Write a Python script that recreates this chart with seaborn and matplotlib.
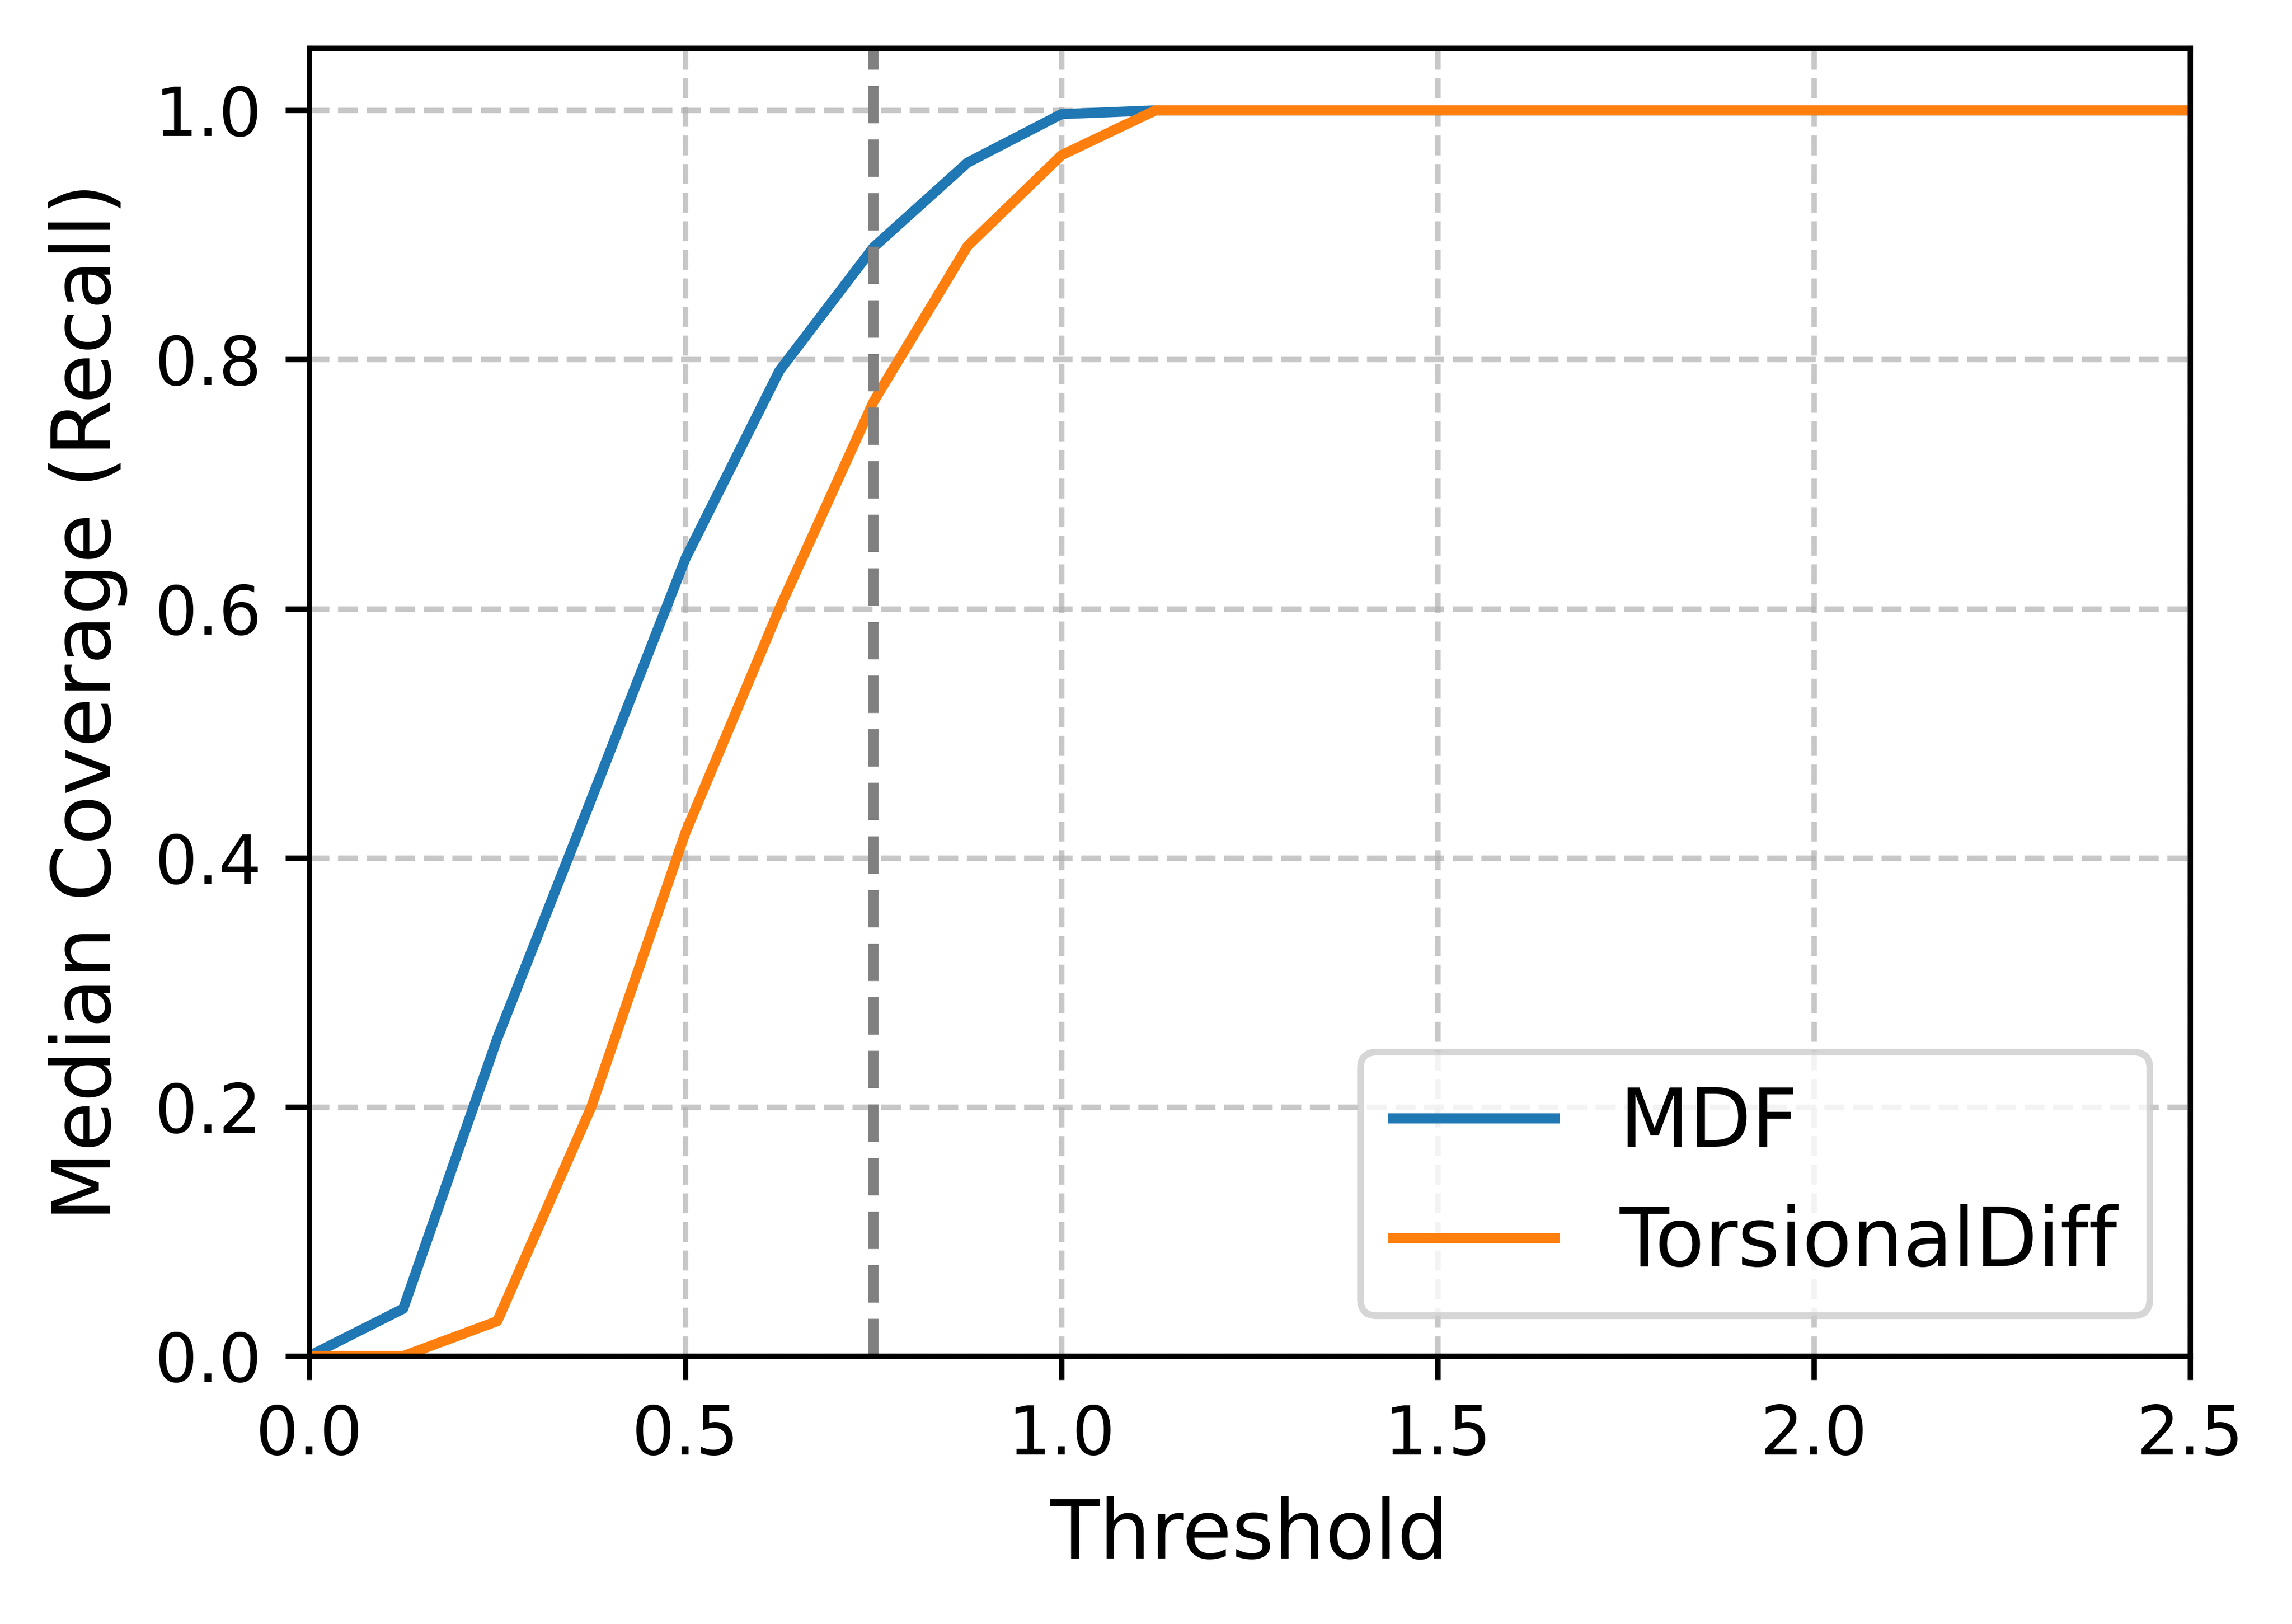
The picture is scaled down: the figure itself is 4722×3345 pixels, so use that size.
import matplotlib
matplotlib.use("Agg")
import matplotlib.pyplot as plt
import seaborn as sns
import numpy as np
import pandas as pd

thresholds = [0.0, 0.125, 0.25, 0.375, 0.5, 0.625, 0.75, 0.875, 1.0, 1.125,
              1.25, 1.375, 1.5, 1.625, 1.75, 1.875, 2.0, 2.125, 2.25, 2.375, 2.5]
mdf = [0.0, 0.038, 0.255, 0.447, 0.640, 0.791, 0.890, 0.958, 0.997, 1.0,
       1.0, 1.0, 1.0, 1.0, 1.0, 1.0, 1.0, 1.0, 1.0, 1.0, 1.0]
torsional = [0.0, 0.0, 0.028, 0.200, 0.420, 0.600, 0.766, 0.891, 0.964, 1.0,
             1.0, 1.0, 1.0, 1.0, 1.0, 1.0, 1.0, 1.0, 1.0, 1.0, 1.0]
series_names = ["MDF", "TorsionalDiff"]
series_colors = ["#1f77b4", "#ff7f0e"]
marker_threshold = 0.75

df = pd.DataFrame({"Threshold": thresholds, "MDF": mdf, "TorsionalDiff": torsional})

fig = plt.figure(figsize=(4.722, 3.345), dpi=1000)
ax = fig.add_axes([0.1349, 0.1650, 0.9555 - 0.1349, 0.9704 - 0.1650])

for name, color in zip(series_names, series_colors):
    sns.lineplot(data=df, x="Threshold", y=name, ax=ax, color=color,
                 linewidth=1.5, label=name)

ax.axvline(marker_threshold, color="gray", linestyle="--", linewidth=1.5)

ax.set_xlim(0, 2.5)
ax.set_ylim(0, 1.05)
ax.set_xticks([0.0, 0.5, 1.0, 1.5, 2.0, 2.5])
ax.set_yticks([0.0, 0.2, 0.4, 0.6, 0.8, 1.0])
ax.tick_params(labelsize=10)
ax.set_xlabel("Threshold", fontsize=12)
ax.set_ylabel("Median Coverage (Recall)", fontsize=12)
ax.grid(True, linestyle="--", alpha=0.7)
ax.legend(loc="lower right", fontsize=12)

fig.savefig("out.png", dpi=1000)
